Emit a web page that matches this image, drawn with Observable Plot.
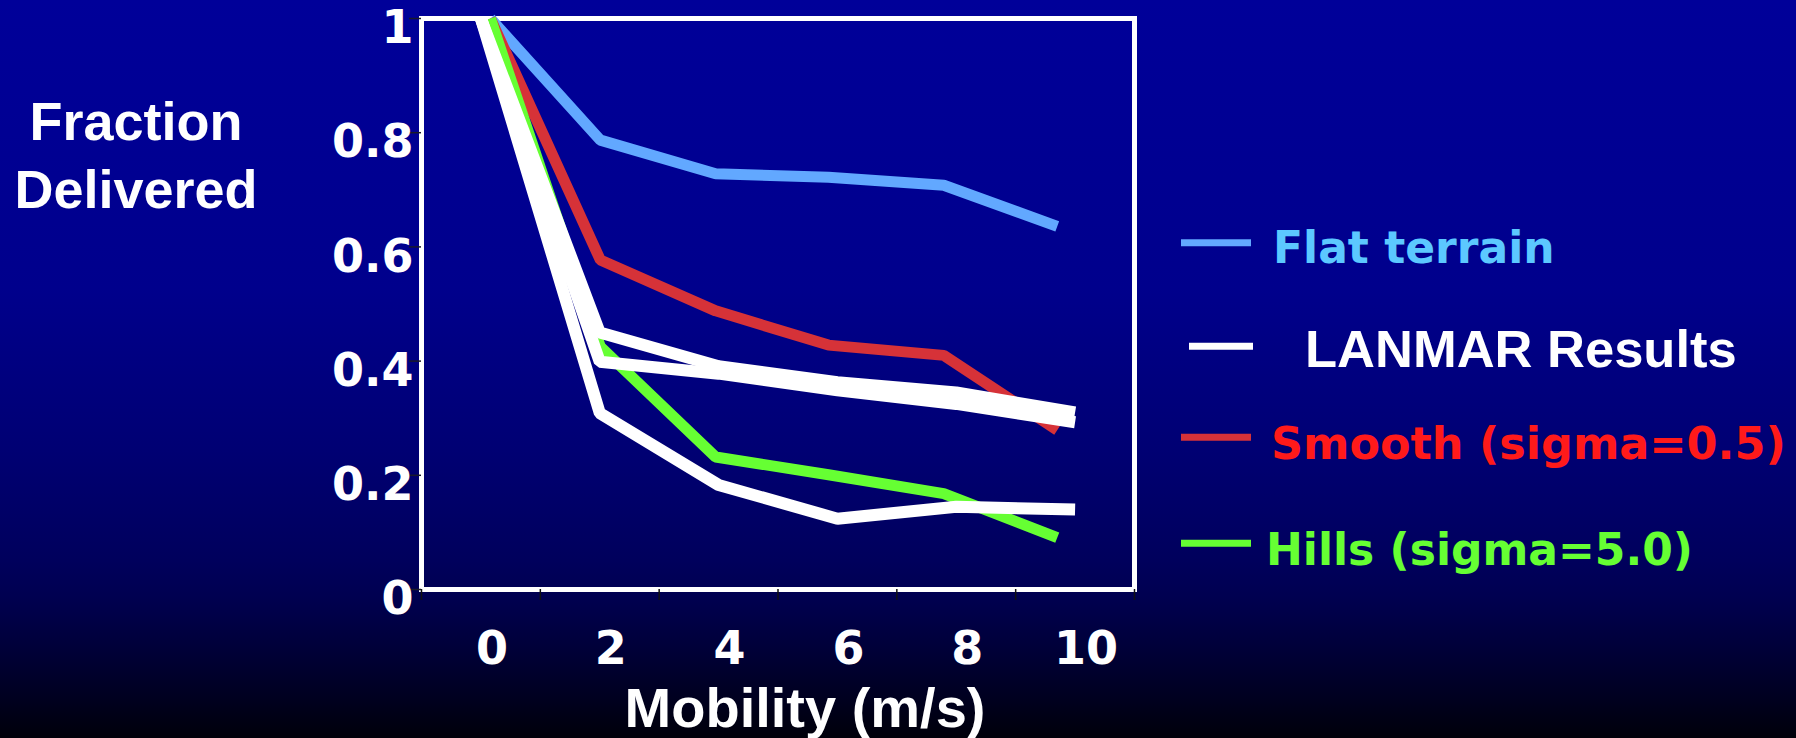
<!DOCTYPE html>
<html>
<head>
<meta charset="utf-8">
<script src="https://cdn.jsdelivr.net/npm/d3@7"></script>
<script src="https://cdn.jsdelivr.net/npm/@observablehq/plot@0.6"></script>
<style>
  html, body { margin: 0; padding: 0; width: 1796px; height: 738px; overflow: hidden; }
  body {
    background: linear-gradient(to bottom,
      #000099 0%, #00008c 39%, #000073 61%, #00005c 76%,
      #000050 81%, #000038 88%, #00001e 95%, #00000a 100%);
  }
  #chart { position: relative; width: 1796px; height: 738px; }
  #chart svg { position: absolute; left: 0; top: 0; }
</style>
</head>
<body>
<div id="chart"></div>
<script>
// Mobility (m/s) for the LANMAR runs and for the terrain simulations
const mobility = [0, 2, 4, 6, 8, 10];
const terrainMobility = [0.16, 2.01, 3.95, 5.85, 7.79, 9.70];

// Fraction of packets delivered
const flatTerrain = [1, 0.787, 0.728, 0.722, 0.708, 0.636];
const smoothTerrain = [1, 0.577, 0.488, 0.428, 0.410, 0.279];
const hillsTerrain = [1, 0.425, 0.232, 0.201, 0.168, 0.091];
const lanmarRunA = [1, 0.450, 0.391, 0.363, 0.345, 0.310];
const lanmarRunB = [1, 0.399, 0.378, 0.349, 0.325, 0.293];
const lanmarRunC = [1, 0.309, 0.183, 0.124, 0.145, 0.140];

// Axes
const yTicks = [0, 0.2, 0.4, 0.6, 0.8, 1];
const yTickLabels = ["0", "0.2", "0.4", "0.6", "0.8", "1"];
const xTicks = [0, 2, 4, 6, 8, 10];
const xTickLabels = ["0", "2", "4", "6", "8", "10"];
const xTickMarks = [-1, 1, 3, 5, 7, 9, 11];
const xTitle = "Mobility (m/s)";
const yTitleLines = ["Fraction", "Delivered"];

// Legend
const legendLabels = ["Flat terrain", "LANMAR Results", "Smooth (sigma=0.5)", "Hills (sigma=5.0)"];
const legendTextColors = ["#5cc8ff", "#ffffff", "#ff1a1a", "#66ff33"];
const legendLineColors = ["#62a8ff", "#ffffff", "#d63238", "#66ff33"];

const W = 1796, H = 738;

const toRows = (xs, ys) => xs.map((x, i) => ({x, y: ys[i]}));
const lineOpts = (stroke, strokeWidth = 11) => ({
  x: "x", y: "y", stroke, strokeWidth,
  strokeLinejoin: "miter", strokeLinecap: "butt"
});

const chart = Plot.plot({
  width: W,
  height: H,
  marginLeft: 421,
  marginRight: 662,
  marginTop: 18,
  marginBottom: 149,
  x: {domain: [-1, 11]},
  y: {domain: [0, 1]},
  style: {background: "transparent", color: "white", overflow: "visible"},
  marks: [
    Plot.frame({stroke: "white", strokeWidth: 5}),
    Plot.axisY(yTicks, {tickSize: 12, stroke: "#1a1a2a", strokeWidth: 1.5, fill: "none", label: null}),
    Plot.axisY(yTicks, {
      tickSize: 0, tickPadding: 8, dy: 10,
      tickFormat: (d) => yTickLabels[yTicks.indexOf(d)],
      fill: "white", fontSize: 46, fontWeight: "bold", fontFamily: "DejaVu Sans",
      label: null
    }),
    Plot.axisX(xTickMarks, {tickSize: 11, stroke: "#111", strokeWidth: 1.5, fill: "none", label: null}),
    Plot.axisX(xTicks, {
      tickSize: 0, tickPadding: 42, dx: 11,
      tickFormat: (d) => xTickLabels[xTicks.indexOf(d)],
      fill: "white", fontSize: 46, fontWeight: "bold", fontFamily: "DejaVu Sans",
      label: null
    }),
    Plot.text([xTitle], {
      text: (d) => d, frameAnchor: "bottom", dx: 27, dy: 120, lineAnchor: "middle",
      fill: "white", fontSize: 56, fontWeight: "bold", fontFamily: "Liberation Sans"
    }),
    Plot.line(toRows(terrainMobility, flatTerrain), lineOpts(legendLineColors[0])),
    Plot.line(toRows(terrainMobility, smoothTerrain), lineOpts(legendLineColors[2])),
    Plot.line(toRows(terrainMobility, hillsTerrain), lineOpts(legendLineColors[3])),
    Plot.line(toRows(mobility, lanmarRunA), lineOpts(legendLineColors[1], 12)),
    Plot.line(toRows(mobility, lanmarRunB), lineOpts(legendLineColors[1], 12)),
    Plot.line(toRows(mobility, lanmarRunC), lineOpts(legendLineColors[1], 12))
  ]
});
document.getElementById("chart").appendChild(chart);

// Y-axis title and legend, laid over the plot
const overlay = d3.select("#chart").append("svg")
  .attr("width", W).attr("height", H)
  .style("overflow", "visible");

overlay.selectAll("text.ytitle")
  .data(yTitleLines)
  .join("text")
  .attr("class", "ytitle")
  .attr("x", 136)
  .attr("y", (d, i) => [140, 208][i])
  .attr("text-anchor", "middle")
  .attr("fill", "white")
  .style("font", "bold 54px 'Liberation Sans', Arial, sans-serif")
  .text((d) => d);

const legendRows = [
  {lx0: 1181, lx1: 1251, ly: 242.7, tx: 1273, ty: 263.3, font: "bold 44px 'DejaVu Sans'"},
  {lx0: 1189, lx1: 1253, ly: 346.3, tx: 1305, ty: 366.7, font: "bold 52.5px 'Liberation Sans'"},
  {lx0: 1181, lx1: 1251, ly: 437.3, tx: 1271, ty: 459.3, font: "bold 44.5px 'DejaVu Sans'"},
  {lx0: 1181, lx1: 1251, ly: 543.3, tx: 1266, ty: 565, font: "bold 44px 'DejaVu Sans'"}
];

const entry = overlay.selectAll("g.legend")
  .data(legendLabels)
  .join("g")
  .attr("class", "legend");

entry.append("line")
  .attr("x1", (d, i) => legendRows[i].lx0)
  .attr("x2", (d, i) => legendRows[i].lx1)
  .attr("y1", (d, i) => legendRows[i].ly)
  .attr("y2", (d, i) => legendRows[i].ly)
  .attr("stroke", (d, i) => legendLineColors[i])
  .attr("stroke-width", 7);

entry.append("text")
  .attr("x", (d, i) => legendRows[i].tx)
  .attr("y", (d, i) => legendRows[i].ty)
  .attr("fill", (d, i) => legendTextColors[i])
  .style("font", (d, i) => legendRows[i].font)
  .text((d) => d);
</script>
</body>
</html>
